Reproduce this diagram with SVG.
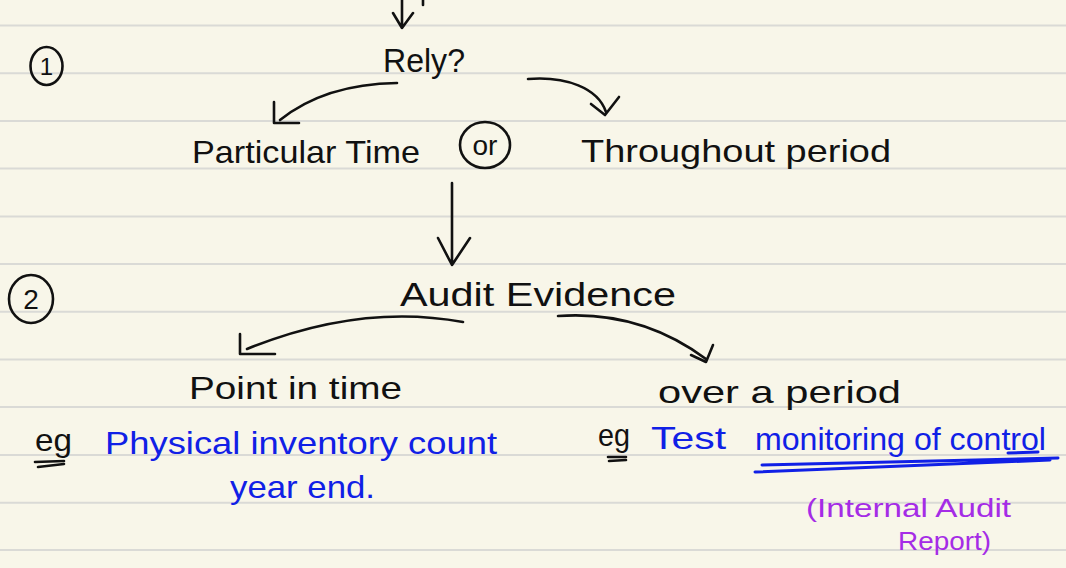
<svg xmlns="http://www.w3.org/2000/svg" width="1066" height="568" viewBox="0 0 1066 568">
<style>
.rule{stroke:#dadad6;stroke-width:2}
.ink{fill:none;stroke:#111;stroke-width:2.6;stroke-linecap:round;stroke-linejoin:round}
.blueink{fill:none;stroke:#1020e6;stroke-width:3;stroke-linecap:round}
.t{font-family:"Liberation Sans",Arial,sans-serif;fill:#111}
.b{font-family:"Liberation Sans",Arial,sans-serif;fill:#1020e6}
.p{font-family:"Liberation Sans",Arial,sans-serif;fill:#a52ce6}
</style>
<rect width="1066" height="568" fill="#f8f6e9"/>
<g id="paper-lines">
<line class="rule" x1="0" y1="25.5" x2="1066" y2="25.5"/>
<line class="rule" x1="0" y1="73.2" x2="1066" y2="73.2"/>
<line class="rule" x1="0" y1="121" x2="1066" y2="121"/>
<line class="rule" x1="0" y1="168.6" x2="1066" y2="168.6"/>
<line class="rule" x1="0" y1="216.4" x2="1066" y2="216.4"/>
<line class="rule" x1="0" y1="264" x2="1066" y2="264"/>
<line class="rule" x1="0" y1="311.8" x2="1066" y2="311.8"/>
<line class="rule" x1="0" y1="359.5" x2="1066" y2="359.5"/>
<line class="rule" x1="0" y1="407" x2="1066" y2="407"/>
<line class="rule" x1="0" y1="455" x2="1066" y2="455"/>
<line class="rule" x1="0" y1="502.7" x2="1066" y2="502.7"/>
<line class="rule" x1="0" y1="550" x2="1066" y2="550"/>
</g>
<g id="connectors">
<path class="ink" d="M402,0 L402,28 M393,13 L402,28 L413,13"/>
<path class="ink" d="M423,0 L423,5"/>
<path class="ink" d="M397,83 Q325,84 280,120 M274,102 L274,123 L299,123"/>
<path class="ink" d="M528,79 C566,76 598,88 606,112 M591,104 L605,115 L619,97"/>
<path class="ink" d="M452,183 L452,265 M438,238 L452,265 L470,238"/>
<path class="ink" d="M463,322 Q360,303 247,349 M240,334 L240,354 L275,354"/>
<path class="ink" d="M558,316 Q640,310 706,359 M691,355 L706,362 L713,345"/>
</g>
<g id="marker-1">
<ellipse class="ink" cx="46.5" cy="66" rx="16" ry="19"/>
<text class="t" x="46.5" y="75" font-size="24" text-anchor="middle">1</text>
</g>
<g id="marker-2">
<ellipse class="ink" cx="31" cy="299" rx="22" ry="24"/>
<text class="t" x="31" y="309" font-size="28" text-anchor="middle">2</text>
</g>
<g id="rely">
<text class="t" x="383" y="72" font-size="33" textLength="82" lengthAdjust="spacingAndGlyphs">Rely?</text>
</g>
<g id="particular-time">
<text class="t" x="192" y="163" font-size="32" textLength="228" lengthAdjust="spacingAndGlyphs">Particular Time</text>
</g>
<g id="or">
<ellipse class="ink" cx="485" cy="145" rx="25" ry="23"/>
<text class="t" x="485" y="155" font-size="28" text-anchor="middle">or</text>
</g>
<g id="throughout-period">
<text class="t" x="581" y="162" font-size="32" textLength="310" lengthAdjust="spacingAndGlyphs">Throughout period</text>
</g>
<g id="audit-evidence">
<text class="t" x="400" y="306" font-size="34" textLength="276" lengthAdjust="spacingAndGlyphs">Audit Evidence</text>
</g>
<g id="point-in-time">
<text class="t" x="189" y="399" font-size="32" textLength="213" lengthAdjust="spacingAndGlyphs">Point in time</text>
</g>
<g id="over-a-period">
<text class="t" x="658" y="403" font-size="32" textLength="243" lengthAdjust="spacingAndGlyphs">over a period</text>
</g>
<g id="example-left">
<text class="t" x="35" y="451" font-size="32" textLength="37" lengthAdjust="spacingAndGlyphs">eg</text>
<path class="ink" d="M35,462 L64,461 M38,467 L64,464"/>
<text class="b" x="105" y="454" font-size="32" textLength="392" lengthAdjust="spacingAndGlyphs">Physical inventory count</text>
<text class="b" x="230" y="498" font-size="32" textLength="145" lengthAdjust="spacingAndGlyphs">year end.</text>
</g>
<g id="example-right">
<text class="t" x="598" y="446" font-size="32" textLength="32" lengthAdjust="spacingAndGlyphs">eg</text>
<path class="ink" d="M608,457 L626,457 M609,461 L626,460"/>
<text class="b" x="651" y="449" font-size="32" textLength="75" lengthAdjust="spacingAndGlyphs">Test</text>
<text class="b" x="755" y="450" font-size="32" textLength="291" lengthAdjust="spacingAndGlyphs">monitoring of control</text>
<path class="blueink" d="M762,465 L1058,458 M755,472 L1050,460 M1008,453 L1038,452"/>
</g>
<g id="note-internal-audit">
<text class="p" x="806" y="517" font-size="26" textLength="205" lengthAdjust="spacingAndGlyphs">(Internal Audit</text>
<text class="p" x="898" y="550" font-size="26" textLength="93" lengthAdjust="spacingAndGlyphs">Report)</text>
</g>
</svg>
